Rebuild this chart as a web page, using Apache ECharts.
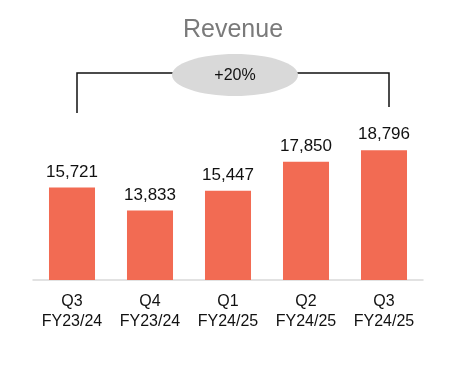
<!DOCTYPE html>
<html><head><meta charset="utf-8">
<script src="https://cdn.jsdelivr.net/npm/echarts@6/dist/echarts.min.js"></script>
<style>html,body{margin:0;padding:0;background:#fff}#c{width:474px;height:373px}</style>
</head><body><div id="c"></div>
<script>
const categories = ['Q3\nFY23/24', 'Q4\nFY23/24', 'Q1\nFY24/25', 'Q2\nFY24/25', 'Q3\nFY24/25'];
const revenue = [15721, 13833, 15447, 17850, 18796];
const growthLabel = '+20%';
const titleText = 'Revenue';

const chart = echarts.init(document.getElementById('c'));
const F = 'Liberation Sans, Arial, sans-serif';
chart.setOption({
  animation: false,
  title: { text: titleText, left: 228, top: 13, textAlign: 'center',
    textStyle: { color: '#7a7a7a', fontSize: 25, fontWeight: 'normal', fontFamily: F } },
  grid: { left: 33, right: 51, top: 115, bottom: 93 },
  xAxis: { type: 'category', data: categories,
    axisLine: { lineStyle: { color: '#d9d9d9', width: 1.5 } },
    axisTick: { show: false },
    axisLabel: { color: '#111', fontSize: 16, lineHeight: 20, margin: 12, fontFamily: F, interval: 0 } },
  yAxis: { type: 'value', min: 8100, max: 21700, show: false, splitLine: { show: false } },
  series: [{
    type: 'bar', data: revenue, barWidth: '59%',
    itemStyle: { color: '#F26B53' },
    label: { show: true, position: 'top', distance: 7, color: '#111', fontSize: 17, fontFamily: F,
      formatter: p => p.value.toLocaleString('en-US') }
  }],
  graphic: [
    { type: 'polyline', shape: { points: [[77, 113], [77, 73], [175, 73]] }, style: { stroke: '#111', lineWidth: 1.5, fill: null } },
    { type: 'polyline', shape: { points: [[295, 73], [389, 73], [389, 107]] }, style: { stroke: '#111', lineWidth: 1.5, fill: null } },
    { type: 'ellipse', shape: { cx: 235, cy: 75, rx: 63, ry: 21 }, style: { fill: '#d9d9d9' } },
    { type: 'text', x: 235, y: 76, style: { text: growthLabel, fill: '#111', fontSize: 16, fontFamily: F, align: 'center', verticalAlign: 'middle' } }
  ]
});
</script></body></html>
